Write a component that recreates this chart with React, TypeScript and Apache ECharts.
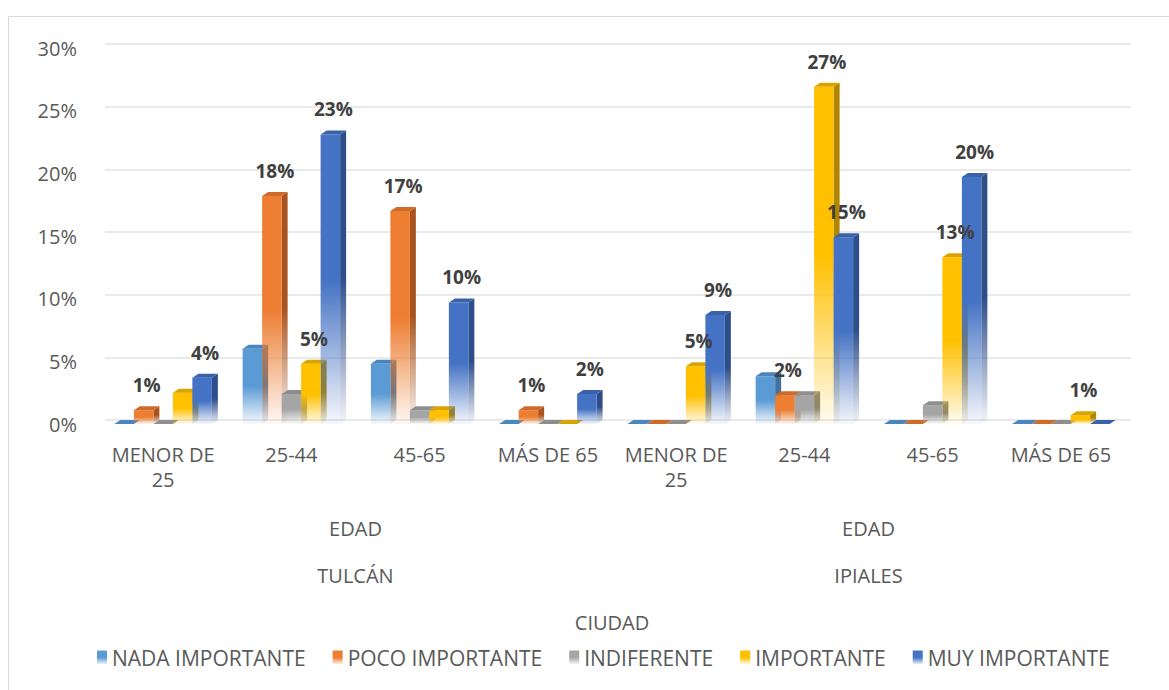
import React, { useEffect, useRef } from "react";
import * as echarts from "echarts";

const categories = ["MENOR DE\n25", "25-44", "45-65", "MÁS DE 65", "MENOR DE\n25", "25-44", "45-65", "MÁS DE 65"];
const groupLevel = ["EDAD", "EDAD"];
const cityLevel = ["TULCÁN", "IPIALES"];
const outerLevel = ["CIUDAD"];
const yTicks = [0, 5, 10, 15, 20, 25, 30];

const seriesNames = ["NADA IMPORTANTE", "POCO IMPORTANTE", "INDIFERENTE", "IMPORTANTE", "MUY IMPORTANTE"];
const nada = [0, 6.0, 4.8, 0, 0, 3.8, 0, 0];
const poco = [1.1, 18.2, 17.0, 1.1, 0, 2.3, 0, 0];
const indiferente = [0, 2.4, 1.1, 0, 0, 2.3, 1.5, 0];
const importante = [2.5, 4.8, 1.1, 0, 4.6, 26.9, 13.3, 0.7];
const muy = [3.7, 23.1, 9.7, 2.4, 8.7, 14.9, 19.7, 0];

const labelNada = [0, 0, 0, 0, 0, 0, 0, 0];
const labelPoco = [1, 1, 1, 1, 0, 1, 0, 0];
const labelIndiferente = [0, 0, 0, 0, 0, 0, 0, 0];
const labelImportante = [0, 1, 0, 0, 1, 1, 1, 1];
const labelMuy = [1, 1, 1, 1, 1, 1, 1, 0];

const frontColors = ["#5B9BD5", "#ED7D31", "#A5A5A5", "#FFC000", "#4472C4"];
const sideColors = ["#41719C", "#A9541E", "#7C7C7C", "#B08600", "#2E4E8A"];
const topColors = ["#4A86BE", "#CF6A28", "#8E8E8E", "#D9A400", "#3A62AA"];

const FONT = '"Open Sans", "DejaVu Sans", sans-serif';
const DX = 6;
const DY = 4;

function hexA(hex: string, a: number) {
  const n = parseInt(hex.slice(1), 16);
  return `rgba(${(n >> 16) & 255},${(n >> 8) & 255},${n & 255},${a})`;
}

function fade(color: string) {
  return new echarts.graphic.LinearGradient(0, 0, 0, 1, [
    { offset: 0, color },
    { offset: 0.5, color },
    { offset: 1, color: hexA(color, 0.05) },
  ]);
}

export default function App() {
  const ref = useRef<HTMLDivElement>(null);
  useEffect(() => {
    if (!ref.current) return;
    const chart = echarts.init(ref.current, undefined, { renderer: "svg" });
    const values = [nada, poco, indiferente, importante, muy];
    const flags = [labelNada, labelPoco, labelIndiferente, labelImportante, labelMuy];

    const makeSeries = (s: number) => ({
      type: "custom",
      name: seriesNames[s],
      xAxisIndex: 0,
      yAxisIndex: 0,
      itemStyle: { color: fade(frontColors[s]) },
      data: values[s].map((v, i) => [i, v, flags[s][i]]),
      renderItem: (params: any, api: any) => {
        const cat = api.value(0);
        const v = api.value(1);
        const show = api.value(2);
        const base = api.coord([cat, 0]);
        const top = api.coord([cat, v]);
        const band = api.size([1, 0])[0];
        const groupW = band * 0.76;
        const bw = groupW / 5;
        const x0 = base[0] - groupW / 2 + s * bw;
        const yb = base[1];
        const yt = top[1];
        const h = yb - yt;
        const children: any[] = [];
        if (h > 0.5) {
          children.push({
            type: "polygon",
            shape: { points: [[x0 + bw, yt], [x0 + bw + DX, yt - DY], [x0 + bw + DX, yb - DY], [x0 + bw, yb]] },
            style: { fill: fade(sideColors[s]) },
          });
          children.push({
            type: "rect",
            shape: { x: x0, y: yt, width: bw, height: h },
            style: { fill: fade(frontColors[s]) },
          });
        }
        children.push({
          type: "polygon",
          shape: { points: [[x0, yt], [x0 + DX, yt - DY], [x0 + bw + DX, yt - DY], [x0 + bw, yt]] },
          style: { fill: topColors[s] },
        });
        if (show) {
          children.push({
            type: "text",
            z2: 100,
            style: {
              text: Math.round(v) + "%",
              x: x0 + bw / 2 + DX / 2,
              y: yt - 25,
              align: "center",
              verticalAlign: "middle",
              fontSize: 19,
              fontWeight: "bold",
              fontFamily: FONT,
              fill: "#404040",
            },
          });
        }
        return { type: "group", children };
      },
    });

    const option: any = {
      animation: false,
      backgroundColor: "#ffffff",
      textStyle: { fontFamily: FONT },
      graphic: [
        {
          type: "rect",
          shape: { x: 8.5, y: 16.5, width: 1200, height: 700 },
          style: { fill: "none", stroke: "#D9D9D9", lineWidth: 1 },
          silent: true,
        },
      ],
      grid: [
        { left: 99, right: 44, top: 48, bottom: 266 },
        { left: 99 + DX, right: 44 - DX, top: 48 - DY, bottom: 266 + DY },
      ],
      xAxis: [
        {
          type: "category",
          gridIndex: 0,
          data: categories,
          axisLine: { show: false },
          axisTick: { show: false },
          axisLabel: { interval: 0, fontSize: 20, color: "#595959", margin: 18, lineHeight: 25, fontFamily: FONT },
        },
        {
          type: "category",
          gridIndex: 0,
          position: "bottom",
          offset: 86,
          data: groupLevel,
          axisLine: { show: false },
          axisTick: { show: false },
          axisLabel: { interval: 0, fontSize: 20, color: "#595959", margin: 8, fontFamily: FONT },
        },
        {
          type: "category",
          gridIndex: 0,
          position: "bottom",
          offset: 133,
          data: cityLevel,
          axisLine: { show: false },
          axisTick: { show: false },
          axisLabel: { interval: 0, fontSize: 20, color: "#595959", margin: 8, fontFamily: FONT },
        },
        {
          type: "category",
          gridIndex: 0,
          position: "bottom",
          offset: 180,
          data: outerLevel,
          axisLine: { show: false },
          axisTick: { show: false },
          axisLabel: { interval: 0, fontSize: 20, color: "#595959", margin: 8, fontFamily: FONT },
        },
        {
          type: "category",
          gridIndex: 1,
          data: categories,
          show: false,
        },
      ],
      yAxis: [
        {
          type: "value",
          gridIndex: 0,
          min: yTicks[0],
          max: yTicks[yTicks.length - 1],
          interval: 5,
          splitLine: { show: false },
          axisLine: { show: false },
          axisTick: { show: false },
          axisLabel: { formatter: "{value}%", fontSize: 20, color: "#595959", margin: 22, fontFamily: FONT },
        },
        {
          type: "value",
          gridIndex: 1,
          min: yTicks[0],
          max: yTicks[yTicks.length - 1],
          interval: 5,
          splitLine: { show: true, lineStyle: { color: "#EAEAEA", width: 2 } },
          axisLine: { show: false },
          axisTick: { show: false },
          axisLabel: { show: false },
        },
      ],
      legend: {
        bottom: 17,
        left: 92,
        itemWidth: 10,
        itemHeight: 14,
        itemGap: 27,
        icon: "rect",
        textStyle: { fontSize: 21, color: "#595959", fontFamily: FONT },
        data: seriesNames,
      },
      series: [0, 1, 2, 3, 4].map(makeSeries),
    };
    chart.setOption(option);
    return () => chart.dispose();
  }, []);
  return <div ref={ref} style={{ position: "fixed", left: 0, top: 0, width: 1169, height: 690 }} />;
}
